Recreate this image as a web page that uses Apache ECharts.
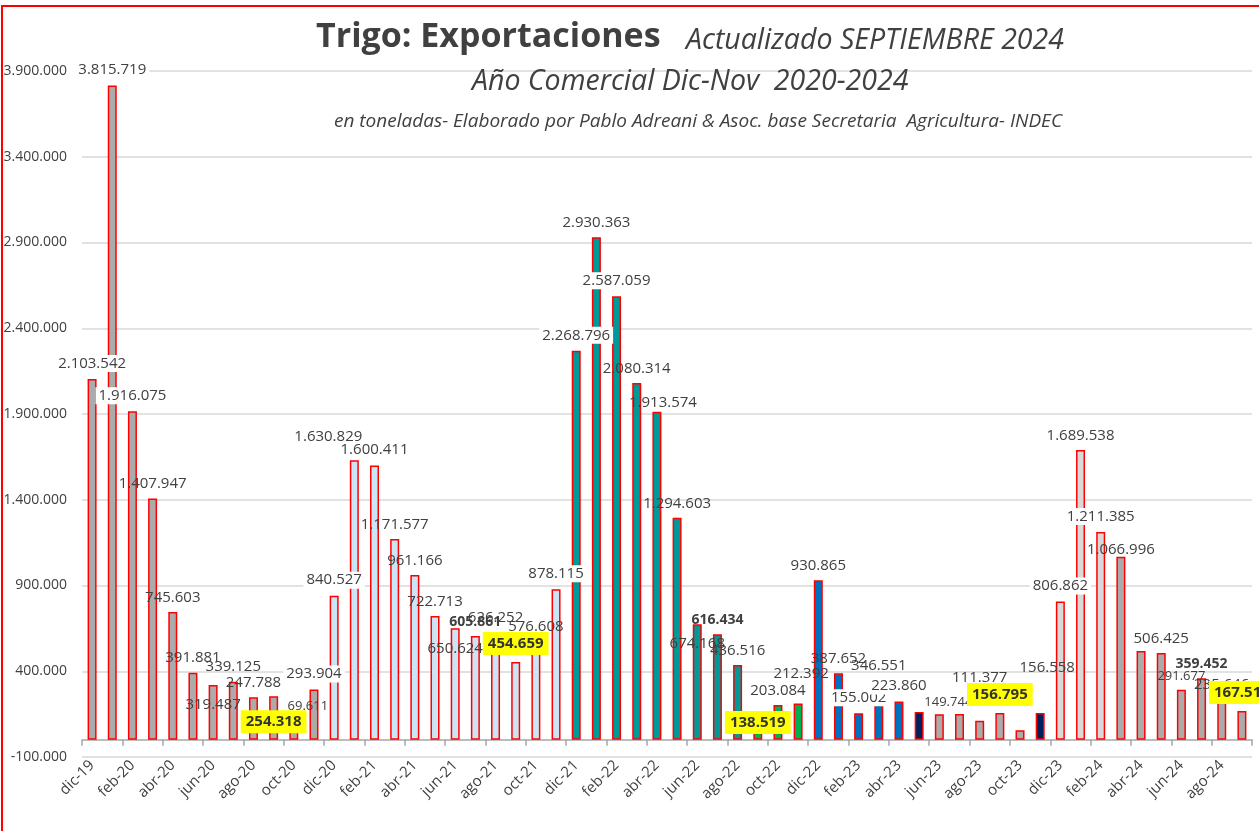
<!DOCTYPE html>
<html>
<head>
<meta charset="utf-8">
<script src="https://cdn.jsdelivr.net/npm/echarts@6/dist/echarts.min.js"></script>
<style>
    html, body {margin:0;padding:0;background:#fff}
    #chart {width:1259px;height:831px}
</style>
</head>
<body>
<div id="chart"></div>
<script>
    // meses (año comercial dic-nov)
    var meses = ['dic-19','ene-20','feb-20','mar-20','abr-20','may-20','jun-20','jul-20','ago-20','sep-20','oct-20','nov-20',
                 'dic-20','ene-21','feb-21','mar-21','abr-21','may-21','jun-21','jul-21','ago-21','sep-21','oct-21','nov-21',
                 'dic-21','ene-22','feb-22','mar-22','abr-22','may-22','jun-22','jul-22','ago-22','sep-22','oct-22','nov-22',
                 'dic-22','ene-23','feb-23','mar-23','abr-23','may-23','jun-23','jul-23','ago-23','sep-23','oct-23','nov-23',
                 'dic-23','ene-24','feb-24','mar-24','abr-24','may-24','jun-24','jul-24','ago-24','sep-24'];

    // exportaciones en toneladas
    var toneladas = [2103542, 3815719, 1916075, 1407947, 745603, 391881, 319487, 339125, 247788, 254318, 69611, 293904,
                     840527, 1630829, 1600411, 1171577, 961166, 722713, 650624, 605861, 626252, 454659, 576608, 878115,
                     2268796, 2930363, 2587059, 2080314, 1913574, 1294603, 674168, 616434, 436516, 138519, 203084, 212392,
                     930865, 387652, 155002, 346551, 223860, 162000, 149744, 151000, 111377, 156795, 56000, 156558,
                     806862, 1689538, 1211385, 1066996, 518000, 506425, 291677, 359452, 235646, 167510];

    // ticks eje y
    var yMin = -100000, yMax = 3900000, yPaso = 500000;

    // colores por tramo
    var tramos = [
        ['dic-19', 'nov-20', '#ABABAB'],
        ['dic-20', 'nov-21', '#CBE5F6'],
        ['dic-21', 'ago-22', '#009999'],
        ['sep-22', 'nov-22', '#00B050'],
        ['dic-22', 'abr-23', '#0070C0'],
        ['may-23', 'may-23', '#002060'],
        ['jun-23', 'oct-23', '#ABABAB'],
        ['nov-23', 'nov-23', '#002060'],
        ['dic-23', 'feb-24', '#D9D9D9'],
        ['mar-24', 'sep-24', '#ABABAB']
    ];

    // estilos de etiquetas
    var fondoBlanco = ['dic-19','ene-20','feb-20','nov-20','dic-20','feb-21','nov-21','dic-21','feb-22','feb-23','abr-23','dic-23','feb-24'];
    var resaltados = ['sep-20','sep-21','sep-22','sep-23','sep-24'];
    var negrita = ['jul-21','jul-22','jul-24'];
    var chicas = ['oct-20','jun-23','jun-24'];
    var sinEtiqueta = ['may-23','jul-23','oct-23','abr-24'];
    var desplazamientos = {
        'jun-20': [0, 34], 'sep-20': [0, 44], 'oct-20': [14, -8], 'ene-21': [-26, -9],
        'jun-21': [0, 35], 'abr-22': [6, 6], 'jun-22': [0, 34], 'sep-22': [0, 25],
        'nov-22': [3, -15], 'jun-23': [9, 2], 'ago-23': [0, -29], 'nov-23': [7, -31], 'mar-24': [0, 7]
    };

    function fmt(v) {
        var s = Math.abs(v).toString().replace(/\B(?=(\d{3})+(?!\d))/g, '.');
        return (v < 0 ? '-' : '') + s;
    }

    function colorDe(i) {
        for (var k = 0; k < tramos.length; k++) {
            if (i >= meses.indexOf(tramos[k][0]) && i <= meses.indexOf(tramos[k][1])) return tramos[k][2];
        }
        return '#ABABAB';
    }

    var datos = toneladas.map(function (v, i) {
        var m = meses[i];
        var label = {};
        if (sinEtiqueta.indexOf(m) >= 0) label.show = false;
        if (fondoBlanco.indexOf(m) >= 0) { label.backgroundColor = '#fff'; label.padding = [1, 3]; }
        if (resaltados.indexOf(m) >= 0) {
            label.backgroundColor = '#FFFF00'; label.fontWeight = 'bold'; label.padding = [4, 5]; label.color = '#333';
        }
        if (negrita.indexOf(m) >= 0) { label.fontWeight = 'bold'; label.fontSize = 14; }
        if (chicas.indexOf(m) >= 0) label.fontSize = 13;
        if (desplazamientos[m]) label.offset = desplazamientos[m];
        return {value: v, itemStyle: {color: colorDe(i)}, label: label};
    });

    var chart = echarts.init(document.getElementById('chart'));
    var txt = '#404040';
    var option = {
        animation: false,
        title: [
            {text: 'Trigo: Exportaciones', left: 316, top: 20, padding: 0,
             textStyle: {fontFamily: 'Open Sans', fontWeight: 'bold', fontSize: 34, color: txt}},
            {text: 'Actualizado SEPTIEMBRE 2024', left: 686, top: 26, padding: 0,
             textStyle: {fontFamily: 'Open Sans', fontStyle: 'italic', fontWeight: 'normal', fontSize: 28.5, color: txt}},
            {text: 'Año Comercial Dic-Nov  2020-2024', left: 472, top: 67, padding: 0,
             textStyle: {fontFamily: 'Open Sans', fontStyle: 'italic', fontWeight: 'normal', fontSize: 28.5, color: txt}},
            {text: 'en toneladas- Elaborado por Pablo Adreani & Asoc. base Secretaria  Agricultura- INDEC', left: 334, top: 112, padding: 0,
             textStyle: {fontFamily: 'Open Sans', fontStyle: 'italic', fontWeight: 'normal', fontSize: 19, color: txt}}
        ],
        grid: {left: 82, right: 7, top: 71, bottom: 74},
        xAxis: [
            {
                type: 'category',
                data: meses,
                axisLine: {onZero: true, lineStyle: {color: '#A6A6A6', width: 1.5}},
                axisTick: {show: true, interval: 1, length: 6, lineStyle: {color: '#A6A6A6', width: 1.5}},
                axisLabel: {show: false},
                splitLine: {show: false}
            },
            {
                type: 'category',
                data: meses,
                position: 'bottom',
                axisLine: {show: false, onZero: false},
                axisTick: {show: false},
                axisLabel: {interval: 1, rotate: 45, margin: 6, fontFamily: 'Open Sans', fontSize: 15, color: txt},
                splitLine: {show: false}
            }
        ],
        yAxis: {
            type: 'value',
            min: yMin,
            max: yMax,
            interval: yPaso,
            axisLine: {show: false},
            axisTick: {show: false},
            axisLabel: {margin: 15, fontFamily: 'Open Sans', fontSize: 14, color: txt, formatter: fmt},
            splitLine: {lineStyle: {color: '#D9D9D9', width: 1.5}}
        },
        series: [{
            type: 'bar',
            xAxisIndex: 0,
            barWidth: 9,
            data: datos,
            itemStyle: {borderColor: '#FF0000', borderWidth: 1.5},
            label: {
                show: true,
                position: 'top',
                distance: 7,
                fontFamily: 'Open Sans',
                fontSize: 15,
                color: txt,
                formatter: function (p) { return fmt(p.value); }
            }
        }],
        graphic: [{
            type: 'rect',
            x: 2, y: 6,
            shape: {x: 0, y: 0, width: 1400, height: 1000},
            style: {fill: 'none', stroke: '#FF0000', lineWidth: 2},
            silent: true,
            z: 100
        }]
    };
    chart.setOption(option);
</script>
</body>
</html>
